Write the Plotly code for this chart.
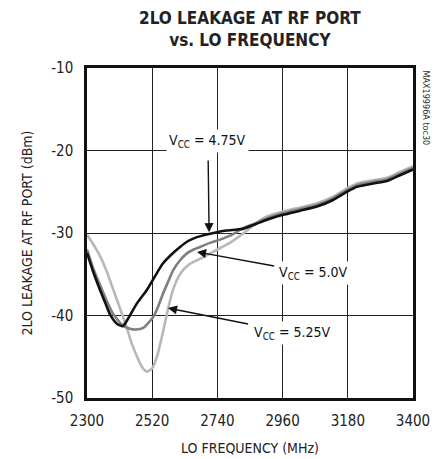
import plotly.graph_objects as go

freq_475 = [2300, 2320, 2344, 2362, 2378, 2401, 2421, 2435, 2469, 2502, 2530, 2556, 2585, 2614, 2640, 2671, 2700, 2739, 2770, 2800, 2826, 2870, 2907, 2961, 3019, 3076, 3130, 3177, 3211, 3265, 3312, 3356, 3400]
vcc_475 = [-32.4, -34.6, -36.9, -38.5, -39.9, -41.0, -41.3, -40.6, -38.5, -36.9, -35.2, -33.7, -32.6, -31.7, -31.0, -30.5, -30.2, -29.9, -29.7, -29.6, -29.5, -28.9, -28.4, -27.8, -27.3, -26.8, -26.0, -25.0, -24.4, -24.0, -23.7, -23.0, -22.3]

freq_50 = [2300, 2320, 2344, 2366, 2388, 2421, 2445, 2465, 2490, 2523, 2540, 2557, 2575, 2591, 2612, 2636, 2660, 2681, 2715, 2749, 2790, 2826, 2870, 2907, 2961, 3019, 3076, 3130, 3177, 3211, 3265, 3312, 3356, 3400]
vcc_50 = [-32.0, -34.2, -36.3, -38.2, -39.8, -41.2, -41.6, -41.7, -41.5, -40.2, -38.9, -37.3, -35.8, -34.5, -33.4, -32.5, -32.0, -31.7, -31.2, -30.8, -30.2, -29.4, -28.8, -28.2, -27.6, -27.1, -26.6, -25.8, -24.8, -24.2, -23.8, -23.5, -22.8, -22.1]

freq_525 = [2300, 2320, 2344, 2366, 2388, 2412, 2435, 2452, 2469, 2485, 2502, 2520, 2536, 2550, 2563, 2576, 2590, 2606, 2624, 2645, 2671, 2700, 2725, 2755, 2782, 2810, 2840, 2870, 2907, 2961, 3019, 3076, 3130, 3177, 3211, 3265, 3312, 3356, 3400]
vcc_525 = [-30.2, -31.3, -32.8, -34.6, -36.8, -39.2, -41.6, -43.5, -45.0, -46.2, -46.8, -46.4, -45.0, -43.0, -40.9, -38.8, -36.9, -35.5, -34.5, -33.8, -33.3, -32.8, -32.3, -31.7, -31.2, -30.5, -29.7, -28.8, -28.0, -27.4, -26.9, -26.4, -25.6, -24.6, -24.0, -23.6, -23.3, -22.6, -21.9]

x_ticks = [2300, 2520, 2740, 2960, 3180, 3400]
y_ticks = [-50, -40, -30, -20, -10]

FONT = "DejaVu Sans Condensed, Liberation Sans Narrow, Arial Narrow, sans-serif"

fig = go.Figure()
fig.add_trace(go.Scatter(x=freq_525, y=vcc_525, mode="lines", line=dict(color="#b8b8b8", width=2.6, shape="spline", smoothing=0.6), showlegend=False))
fig.add_trace(go.Scatter(x=freq_50, y=vcc_50, mode="lines", line=dict(color="#7f7f7f", width=2.6, shape="spline", smoothing=0.6), showlegend=False))
fig.add_trace(go.Scatter(x=freq_475, y=vcc_475, mode="lines", line=dict(color="#111111", width=2.6, shape="spline", smoothing=0.6), showlegend=False))

annots = []
# labels with arrows: (text x, text y, arrow head x, arrow head y, text, start standoff)
for (lx, ly, hx, hy, t, ss) in [
    (2708, -18.85, 2712, -29.9, "V<sub>CC</sub> = 4.75V", 8),
    (3063, -34.85, 2671, -32.3, "V<sub>CC</sub> = 5.0V", 2),
    (2995, -42.1, 2573, -39.1, "V<sub>CC</sub> = 5.25V", 4),
]:
    annots.append(dict(x=hx, y=hy, ax=lx, ay=ly, xref="x", yref="y", axref="x", ayref="y",
                       text=t, showarrow=True, arrowhead=2, arrowsize=1.3, arrowwidth=1.4, arrowcolor="#111111",
                       startstandoff=ss, bgcolor="white", borderpad=2,
                       font=dict(family=FONT, size=14, color="#111111")))
annots.append(dict(x=1.04, y=1.0, xref="paper", yref="paper", text="MAX19996A toc30", textangle=90,
                   showarrow=False, xanchor="center", yanchor="top", font=dict(family=FONT, size=9, color="#333333")))
annots.append(dict(x=0.5, y=1.0, xref="paper", yref="paper", yshift=62, text="<b>2LO LEAKAGE AT RF PORT<br>vs. LO FREQUENCY</b>",
                   showarrow=False, xanchor="center", yanchor="top", font=dict(family=FONT, size=17, color="#222222")))
annots.append(dict(x=0.5, y=0, xref="paper", yref="paper", yshift=-50, text="LO FREQUENCY (MHz)",
                   showarrow=False, xanchor="center", yanchor="middle", font=dict(family=FONT, size=14, color="#222222")))

fig.update_layout(
    width=434, height=451,
    margin=dict(l=79, r=29, t=60, b=61),
    paper_bgcolor="white", plot_bgcolor="white",
    font=dict(family=FONT, size=14, color="#222222"),
    annotations=annots,
)
fig.update_xaxes(range=[2300, 3400], tickvals=x_ticks, ticktext=[str(v) for v in x_ticks],
                 showgrid=True, gridcolor="#222222", gridwidth=1, zeroline=False,
                 showline=True, linecolor="#111111", linewidth=2.5, mirror=True, ticks="",
                 tickfont=dict(family=FONT, size=15), ticklabelstandoff=7, automargin=False)
fig.update_yaxes(range=[-50, -10], tickvals=y_ticks, ticktext=[str(v) for v in y_ticks],
                 showgrid=True, gridcolor="#222222", gridwidth=1, zeroline=False,
                 showline=True, linecolor="#111111", linewidth=2.5, mirror=True, ticks="",
                 tickfont=dict(family=FONT, size=15), ticklabelstandoff=8, automargin=False,
                 title=dict(text="2LO LEAKAGE AT RF PORT (dBm)", font=dict(family=FONT, size=14), standoff=16))

fig.write_html("out.html")
